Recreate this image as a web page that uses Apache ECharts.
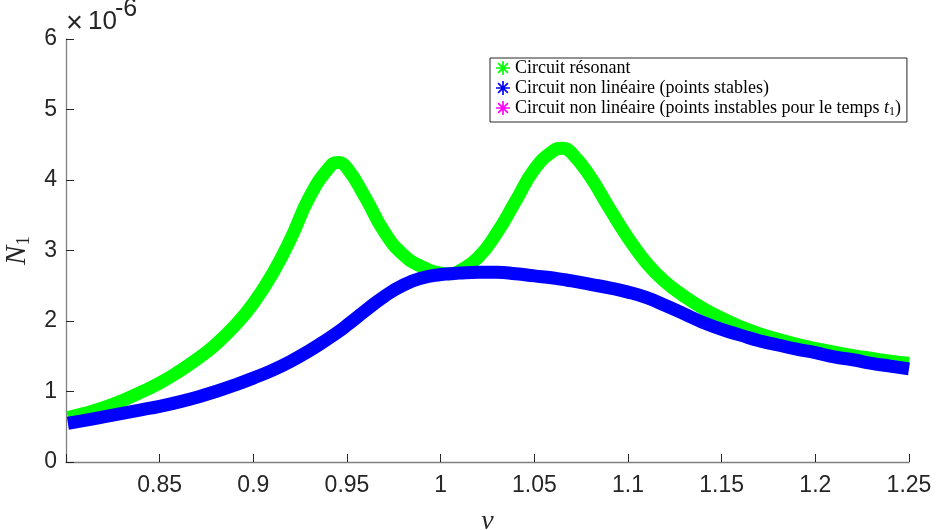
<!DOCTYPE html>
<html>
<head>
<meta charset="utf-8">
<script src="https://cdn.jsdelivr.net/npm/echarts@6/dist/echarts.min.js"></script>
<style>html,body{margin:0;padding:0;background:#fff}#c{width:936px;height:530px}</style>
</head>
<body>
<div id="c"></div>
<script>
// frequency nu (x axis)
const nu = [0.801,0.81,0.82,0.83,0.84,0.85,0.86,0.87,0.88,0.89,0.90,0.91,0.92,0.93,0.94,0.945,0.95,0.96,0.97,0.98,0.99,1.00,1.005,1.01,1.02,1.03,1.04,1.05,1.06,1.065,1.07,1.08,1.09,1.10,1.11,1.12,1.13,1.14,1.15,1.16,1.17,1.18,1.19,1.20,1.21,1.22,1.23,1.24,1.25];
// N1 (units of 1e-6) : resonant circuit
const resonant = [0.63,0.69,0.77,0.87,0.99,1.12,1.28,1.46,1.67,1.93,2.25,2.66,3.17,3.76,4.16,4.25,4.17,3.74,3.26,2.94,2.77,2.68,2.67,2.71,2.90,3.25,3.70,4.15,4.41,4.45,4.38,4.04,3.60,3.18,2.82,2.55,2.35,2.18,2.04,1.92,1.82,1.74,1.67,1.61,1.56,1.51,1.47,1.43,1.40];
// N1 (units of 1e-6) : non-linear circuit, stable points
const stable = [0.55,0.59,0.64,0.69,0.74,0.79,0.85,0.92,1.00,1.09,1.19,1.30,1.43,1.58,1.75,1.84,1.94,2.15,2.35,2.51,2.61,2.66,2.67,2.68,2.69,2.69,2.67,2.64,2.61,2.59,2.57,2.52,2.47,2.41,2.33,2.22,2.10,1.98,1.88,1.80,1.72,1.66,1.60,1.55,1.49,1.45,1.40,1.36,1.32];
// unstable points (none shown)
const unstable = [];
const xTicks = [0.85,0.9,0.95,1,1.05,1.1,1.15,1.2,1.25];
const yTicks = [0,1,2,3,4,5,6];
const names = ['Circuit résonant','Circuit non linéaire (points stables)','Circuit non linéaire (points instables pour le temps t1)'];

const pair = (xs, ys) => xs.map((x,i)=>[x, ys[i]]);
const star = 'path://M0,4.4H10V5.6H0ZM4.4,0H5.6V10H4.4ZM1.92,1.08L8.92,8.08L8.08,8.92L1.08,1.92ZM8.92,1.92L1.92,8.92L1.08,8.08L8.08,1.08Z';
const serif = "'Liberation Serif', 'DejaVu Serif', serif";
const sans = "'Liberation Sans', Arial, sans-serif";

const chart = echarts.init(document.getElementById('c'), null, {renderer:'canvas'});
chart.setOption({
  animation:false,
  backgroundColor:'#fff',
  grid:{left:66,right:27,top:39,bottom:68,containLabel:false,outerBoundsMode:'none'},
  xAxis:{type:'value',min:0.8,max:1.25,interval:0.05,
    name:'ν',nameLocation:'middle',nameGap:46,
    nameTextStyle:{fontFamily:serif,fontStyle:'italic',fontSize:28,color:'#262626'},
    axisLine:{show:true,lineStyle:{color:'#808080',width:1.3}},
    axisTick:{show:true,inside:true,length:8,lineStyle:{color:'#262626'}},
    axisLabel:{fontFamily:sans,fontSize:23,color:'#262626',margin:12,
      formatter:v=>{const r=Math.round(v*100)/100; return xTicks.some(t=>Math.abs(t-r)<1e-9)?String(r):'';}},
    splitLine:{show:false}},
  yAxis:{type:'value',min:0,max:6,interval:1,
    name:'{n|N}{s|1}',nameLocation:'middle',nameGap:27,nameRotate:90,
    nameTextStyle:{rich:{n:{fontFamily:serif,fontStyle:'italic',fontSize:29,color:'#262626'},
                         s:{fontFamily:serif,fontSize:19,color:'#262626',padding:[12,0,0,0]}}},
    axisLine:{show:true,lineStyle:{color:'#808080',width:1.3}},
    axisTick:{show:true,inside:true,length:8,lineStyle:{color:'#262626'}},
    axisLabel:{fontFamily:sans,fontSize:23,color:'#262626',margin:9,
      formatter:v=>yTicks.includes(v)?String(v):''},
    splitLine:{show:false}},
  legend:{orient:'vertical',left:490,top:58,
    backgroundColor:'#fff',borderColor:'#262626',borderWidth:1,borderRadius:0,
    padding:[0,6,4,6],itemGap:0,itemWidth:14,itemHeight:14,
    data:names.map(n=>({name:n,icon:star})),
    formatter:n=> n.endsWith('t1)') ? '{a|Circuit non linéaire (points instables pour le temps }{t|t}{s|1}{a|)}' : '{a|'+n+'}',
    textStyle:{fontFamily:serif,fontSize:18,color:'#000',lineHeight:20,
      rich:{a:{fontFamily:serif,fontSize:18,color:'#000',lineHeight:20},
            t:{fontFamily:serif,fontStyle:'italic',fontSize:18,color:'#000',lineHeight:20},
            s:{fontFamily:serif,fontSize:12,color:'#000',padding:[7,0,0,0],lineHeight:20}}}},
  graphic:[
    {type:'text',left:66,top:9,style:{text:'×',font:"29px 'Liberation Sans', Arial",fill:'#262626'}},
    {type:'text',left:88,top:9,style:{text:'10',font:"26px 'Liberation Sans', Arial",fill:'#262626'}},
    {type:'text',left:115,top:-3,style:{text:'-6',font:"25px 'Liberation Sans', Arial",fill:'#262626'}}
  ],
  series:[
    {name:names[0],type:'line',data:pair(nu,resonant),smooth:0.5,showSymbol:false,symbol:star,
      color:'#00ff00',lineStyle:{color:'#00ff00',width:13},z:2},
    {name:names[1],type:'line',data:pair(nu,stable),smooth:0.5,showSymbol:false,symbol:star,
      color:'#0000ff',lineStyle:{color:'#0000ff',width:13},z:3},
    {name:names[2],type:'line',data:unstable,showSymbol:false,symbol:star,
      color:'#ff00ff',lineStyle:{color:'#ff00ff',width:13},z:4}
  ]
});
</script>
</body>
</html>
